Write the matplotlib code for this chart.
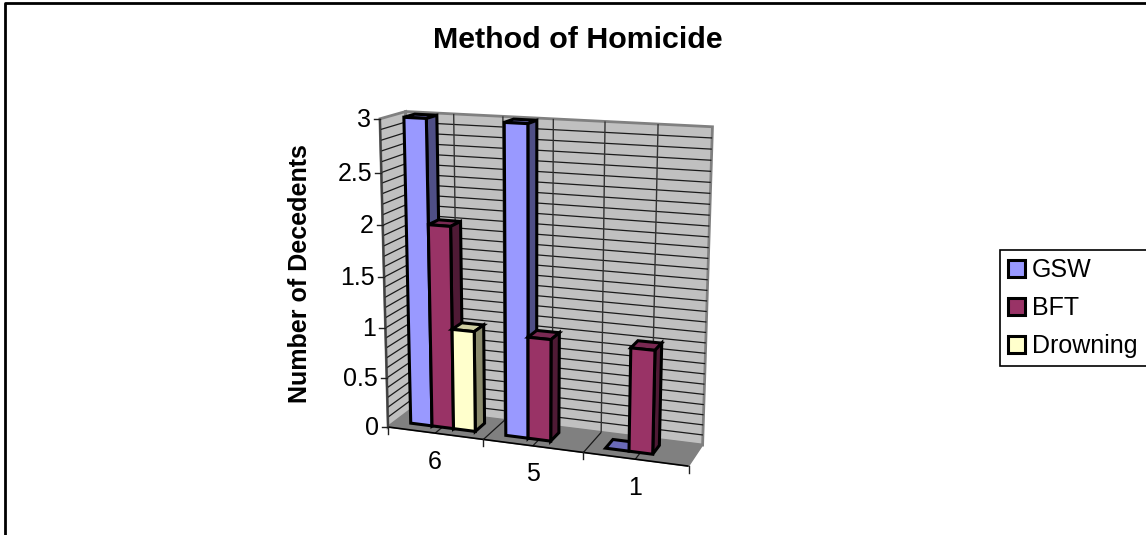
from matplotlib import pyplot as plt
from matplotlib.patches import Polygon, Patch
import numpy as np

plt.rcParams['font.family'] = ['Liberation Sans', 'DejaVu Sans']

categories = ['6', '5', '1']
series_names = ['GSW', 'BFT', 'Drowning']
gsw = [3, 3, 0]
bft = [2, 1, 1]
drowning = [1, None, None]
y_ticks = [0, 0.5, 1, 1.5, 2, 2.5, 3]
y_tick_labels = ['0', '0.5', '1', '1.5', '2', '2.5', '3']

colors = ['#9999FF', '#993366', '#FFFFCC']
side_colors = ['#4F4F86', '#4F1A35', '#8A8A6C']
top_colors = ['#6A6AB8', '#7A2952', '#D0D0A4']

y_max = 3
# (u along categories, value, w depth) -> pixel, used to fit the camera
calib = [
    ((0, 0, 0), (389, 424)), ((0, 3, 0), (380, 119)), ((0, 1.5, 0), (384.5, 276.7)),
    ((0, 1, 0), (385.5, 326.7)), ((0, 2, 0), (382.5, 225)),
    ((0, 0, 1), (412, 410)), ((0, 3, 1), (405, 112)),
    ((1, 3, 1), (713, 127)), ((1, 0, 1), (703, 443)), ((1, 0, 0), (688, 465)),
    ((1 / 3, 0, 0), (483, 443)), ((2 / 3, 0, 0), (583, 455)),
]


def fit_camera(points):
    rows, rhs = [], []
    for (a, b, c), (px, py) in points:
        rows.append([a, b, c, 1, 0, 0, 0, 0, -px * a, -px * b, -px * c])
        rhs.append(px)
        rows.append([0, 0, 0, 0, a, b, c, 1, -py * a, -py * b, -py * c])
        rhs.append(py)
    sol = np.linalg.lstsq(np.array(rows, float), np.array(rhs, float), rcond=None)[0]
    return np.append(sol, 1).reshape(3, 4)


cam = fit_camera(calib)


def project(u, v, w):
    p = cam @ np.array([u, v, w, 1.0])
    return p[0] / p[2], p[1] / p[2]


def face(ax, corners, color, edge='black', lw=2.2, z=2):
    pts = [project(*c) for c in corners]
    ax.add_patch(Polygon(pts, closed=True, facecolor=color, edgecolor=edge, linewidth=lw,
                         joinstyle='miter', zorder=z))


def line3d(ax, a, b, color='#1A1A1A', lw=0.9, z=1):
    pa, pb = project(*a), project(*b)
    ax.plot([pa[0], pb[0]], [pa[1], pb[1]], color=color, lw=lw, zorder=z, solid_capstyle='butt')


def draw_bar(ax, u0, u1, val, w0, w1, idx):
    face(ax, [(u0, val, w0), (u1, val, w0), (u1, val, w1), (u0, val, w1)], top_colors[idx])
    if val > 0:
        face(ax, [(u1, 0, w0), (u1, 0, w1), (u1, val, w1), (u1, val, w0)], side_colors[idx])
        face(ax, [(u0, 0, w0), (u1, 0, w0), (u1, val, w0), (u0, val, w0)], colors[idx])


fig = plt.figure(figsize=(11.46, 5.35), dpi=100)
ax = fig.add_axes([0, 0, 1, 1])
ax.set_xlim(0, 1146)
ax.set_ylim(535, 0)
ax.axis('off')

# chart frame, only top and left show in the crop
ax.plot([4.5, 4.5, 1146], [535, 2.5, 2.5], color='black', lw=2.0)

# walls and floor
wall = '#C0C0C0'
face(ax, [(0, 0, 0), (0, 0, 1), (0, y_max, 1), (0, y_max, 0)], wall, edge='#808080', lw=2, z=0)
face(ax, [(0, 0, 1), (1, 0, 1), (1, y_max, 1), (0, y_max, 1)], wall, edge='#808080', lw=2, z=0)
face(ax, [(0, 0, 0), (1, 0, 0), (1, 0, 1), (0, 0, 1)], '#808080', edge='#808080', lw=1, z=0)

for i in range(1, 30):
    v = i / 10
    line3d(ax, (0, v, 0), (0, v, 1))
    line3d(ax, (0, v, 1), (1, v, 1))
for i in range(1, 6):
    u = i / 6
    line3d(ax, (u, 0, 1), (u, y_max, 1), color='#333333', lw=1.0)
    line3d(ax, (u, 0, 0), (u, 0, 1), color='#1A1A1A', lw=0.9)

# axis lines and ticks
line3d(ax, (0, 0, 0), (1, 0, 0), color='black', lw=1.2, z=1.5)
line3d(ax, (0, 0, 0), (0, y_max, 0), color='#404040', lw=1.5, z=1.5)
for val, lab in zip(y_ticks, y_tick_labels):
    x, y = project(0, val, 0)
    ax.plot([x - 6, x], [y, y], color='#202020', lw=1.0, zorder=1.5)
    ax.text(x - 9, y + 1, lab, ha='right', va='center', fontsize=18, color='black')
for i in range(4):
    x, y = project(i / 3, 0, 0)
    ax.plot([x, x], [y, y + 7], color='#202020', lw=1.0, zorder=1.5)
for i, lab in enumerate(categories):
    x, y = project((i + 0.5) / 3, 0, 0)
    ax.text(x, y + 28.5, lab, ha='center', va='center', fontsize=18, color='black')

# bars, back to front is just left to right here
bar_w = 0.076
gap = 0.054
w0, w1 = 0.31, 0.74
for i in range(len(categories)):
    for k, vals in enumerate([gsw, bft, drowning]):
        if vals[i] is None:
            continue
        u0 = i / 3 + gap + k * bar_w
        draw_bar(ax, u0, u0 + bar_w, vals[i], w0, w1, k)

ax.text(578, 39.5, 'Method of Homicide', ha='center', va='center', fontsize=21.9, fontweight='bold')
ax.text(300, 274, 'Number of Decedents', rotation=90, ha='center', va='center',
        fontsize=18, fontweight='bold')

handles = [Patch(facecolor=c, edgecolor='black', linewidth=2.2) for c in colors]
leg = ax.legend(handles, series_names, fontsize=18, loc='upper left',
                bbox_to_anchor=(1000 / 1146, 1 - 364 / 535, 150 / 1146, 114 / 535),
                bbox_transform=fig.transFigure, mode='expand', borderaxespad=0,
                borderpad=0.32, handlelength=0.68, handleheight=0.68, handletextpad=0.28,
                labelspacing=0.56, fancybox=False, framealpha=1, edgecolor='black')
leg.get_frame().set_linewidth(1.2)

fig.savefig('out.png', dpi=100)
